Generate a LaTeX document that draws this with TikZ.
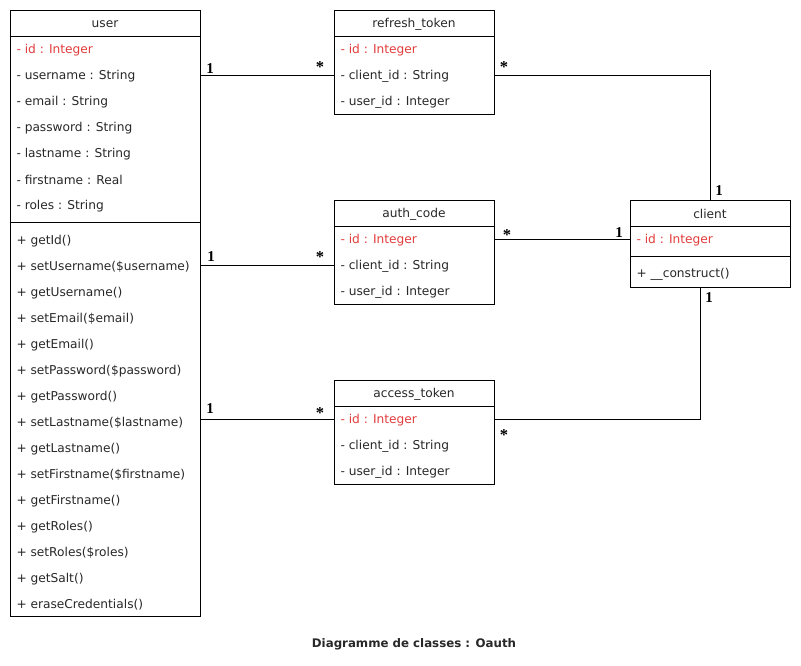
\documentclass[tikz,border=0pt]{standalone}
\usepackage{fontspec}
\setmainfont{DejaVu Sans}
\newfontfamily\multfont{Liberation Serif}
\definecolor{txt}{RGB}{40,40,40}
\definecolor{keyred}{RGB}{226,60,60}
\begin{document}
\begin{tikzpicture}[x=1pt,y=-1pt,line width=1pt,
  classbox/.style={draw,rectangle,anchor=north west,inner sep=0pt,minimum width=160},
  row/.style={anchor=west,inner sep=0pt,text=txt,font=\fontsize{12.2}{14}\selectfont,yshift=-1pt},
  keyrow/.style={row,text=keyred},
  head/.style={row,anchor=center},
  mult/.style={inner sep=0pt,font=\multfont\bfseries\fontsize{15}{15}\selectfont},
  star/.style={mult,font=\multfont\bfseries\fontsize{16.5}{16}\selectfont}]
\useasboundingbox (0,0) rectangle (801,665);
\fill[white] (0,0) rectangle (801,665);

% ---- user ----
\node[classbox,minimum width=190,minimum height=606] (user) at (10,10) {};
\draw (10,36) -- (200,36);
\draw (10,222) -- (200,222);
\node[head] at (105,23) {user};
\node[keyrow] (u1) at (16,49) {- id : Integer};
\foreach \t [count=\i from 2] in {- username : String,- email : String,- password : String,
  - lastname : String,- firstname : Real,- roles : String}
  \node[row] (u\i) at (16,23+26*\i) {\t};
\foreach \t [count=\i] in {+ getId(),+ setUsername(\$username),+ getUsername(),
  + setEmail(\$email),+ getEmail(),+ setPassword(\$password),+ getPassword(),
  + setLastname(\$lastname),+ getLastname(),+ setFirstname(\$firstname),
  + getFirstname(),+ getRoles(),+ setRoles(\$roles),+ getSalt(),+ eraseCredentials()}
  \node[row] (m\i) at (16,214+26*\i) {\t};

% ---- token tables ----
\foreach \nm/\lbl/\y in {rt/refresh\_token/10,ac/auth\_code/200,at/access\_token/380}{
  \node[classbox,minimum height=104] (\nm) at (334,\y) {};
  \draw (334,\y+26) -- (494,\y+26);
  \node[head] at (414,\y+13) {\lbl};
  \node[keyrow] (\nm1) at (340,\y+39) {- id : Integer};
  \node[row] (\nm2) at (340,\y+65) {- client\_id : String};
  \node[row] (\nm3) at (340,\y+91) {- user\_id : Integer};
}

% ---- client ----
\node[classbox,minimum height=87] (client) at (630,200) {};
\draw (630,226) -- (790,226);
\draw (630,256) -- (790,256);
\node[head] at (710,213) {client};
\node[keyrow] (c1) at (636,239) {- id : Integer};
\node[row] (c2) at (636,273) {+ \_\_construct()};

% ---- associations ----
\draw (user.east |- 0,75) -- (rt.west |- 0,75);
\draw (user.east |- 0,265) -- (ac.west |- 0,265);
\draw (user.east |- 0,419) -- (at.west |- 0,419);
\draw (rt.east |- 0,75) -| (client.north);
\draw (client.north |- 0,75) -- ++(0,-5);
\draw (ac.east |- 0,239) -- (client.west |- 0,239);
\draw (at.east |- 0,419) -| ([xshift=-10pt]client.south);

% ---- multiplicities ----
\node[mult] at (210,69) {1};
\node[star] at (320,67) {*};
\node[star] at (504,67) {*};
\node[mult] at (719,191) {1};
\node[mult] at (211,257) {1};
\node[star] at (320,257) {*};
\node[star] at (507,235) {*};
\node[mult] at (619,233) {1};
\node[mult] at (210,409) {1};
\node[star] at (320,413) {*};
\node[star] at (504,435) {*};
\node[mult] at (709,298) {1};

% ---- title ----
\node[inner sep=0pt,text=txt,font=\bfseries\fontsize{11.8}{13}\selectfont] at (414,644)
  {Diagramme de classes : Oauth};
\end{tikzpicture}
\end{document}
